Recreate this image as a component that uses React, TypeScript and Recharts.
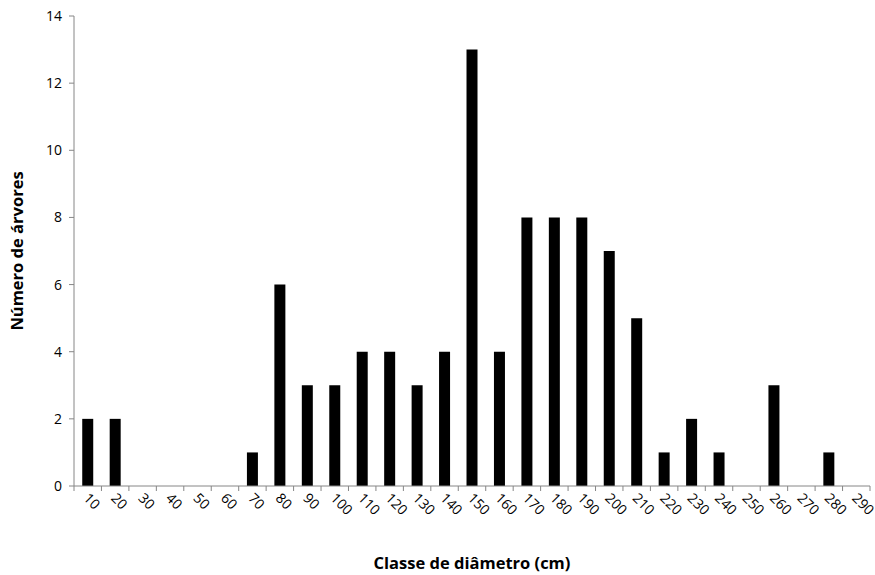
import { BarChart, Bar, XAxis, YAxis, Label } from "recharts";

const classes = [
  "10", "20", "30", "40", "50", "60", "70", "80", "90", "100",
  "110", "120", "130", "140", "150", "160", "170", "180", "190", "200",
  "210", "220", "230", "240", "250", "260", "270", "280", "290",
];
const trees = [
  2, 2, 0, 0, 0, 0, 1, 6, 3, 3,
  4, 4, 3, 4, 13, 4, 8, 8, 8, 7,
  5, 1, 2, 1, 0, 3, 0, 1, 0,
];
const yTicks = [0, 2, 4, 6, 8, 10, 12, 14];

const data = classes.map((c, i) => ({ classe: c, n: trees[i] }));

const FONT = "'Open Sans', 'Noto Sans', sans-serif";
const AXIS = "#868686";

function XTick(props: any) {
  const { x, y, payload, index } = props;
  const half = payload?.offset ?? 13.73;
  const last = index === classes.length - 1;
  return (
    <g>
      <line x1={x - half} y1={y} x2={x - half} y2={y + 5} stroke={AXIS} />
      {last && <line x1={x + half} y1={y} x2={x + half} y2={y + 5} stroke={AXIS} />}
      <text
        x={0}
        y={0}
        transform={`translate(${x - 5}, ${y + 13}) rotate(45)`}
        textAnchor="start"
        fontSize={14}
        fontFamily={FONT}
        fill="#000"
      >
        {payload.value}
      </text>
    </g>
  );
}

export default function App() {
  return (
    <div style={{ position: "absolute", left: 0, top: 0, background: "#fff" }}>
      <BarChart
        width={875}
        height={575}
        data={data}
        margin={{ top: 16, right: 5, bottom: 0, left: 0 }}
        barCategoryGap="30%"
      >
        <XAxis
          dataKey="classe"
          interval={0}
          tickSize={0}
          tickMargin={0}
          tickLine={false}
          stroke={AXIS}
          tick={<XTick />}
          height={89}
        >
          <Label
            value="Classe de diâmetro (cm)"
            position="insideBottom"
            offset={6}
            style={{ fontFamily: FONT, fontSize: 16.5, fontWeight: 700, fill: "#000" }}
          />
        </XAxis>
        <YAxis
          domain={[0, 14]}
          ticks={yTicks}
          width={74}
          tickSize={5}
          tickMargin={7}
          stroke={AXIS}
          tick={{ fill: "#000", fontSize: 14, fontFamily: FONT }}
        >
          <Label
            value="Número de árvores"
            angle={-90}
            position="insideLeft"
            offset={17}
            style={{ fontFamily: FONT, fontSize: 16.5, fontWeight: 700, fill: "#000", textAnchor: "middle" }}
          />
        </YAxis>
        <Bar dataKey="n" fill="#000" isAnimationActive={false} />
      </BarChart>
    </div>
  );
}
